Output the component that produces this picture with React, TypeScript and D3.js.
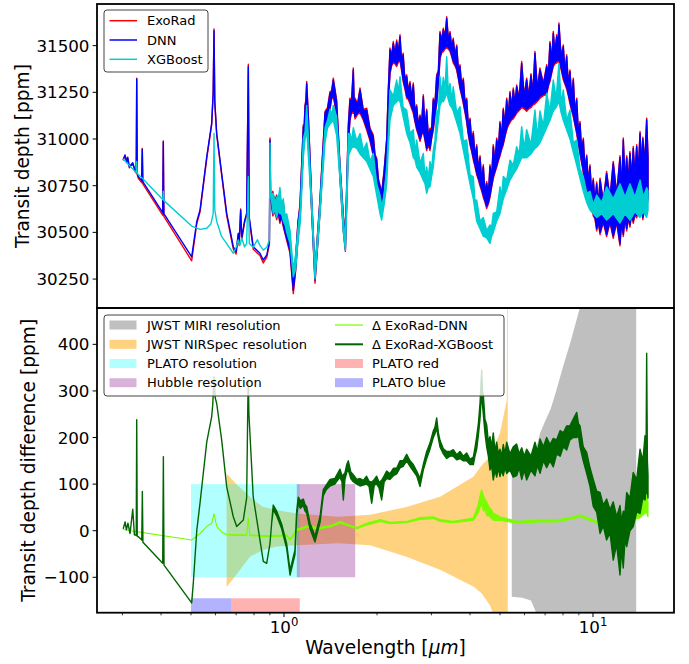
import React from 'react';
import * as d3 from 'd3';

// ---------- data ----------
const X_DOMAIN = [0.2482, 18.29];
const TOP_Y_DOMAIN = [30095, 31723];
const BOT_Y_DOMAIN = [-176, 478];
const TOP_Y_TICKS = [30250, 30500, 30750, 31000, 31250, 31500];
const BOT_Y_TICKS = [-100, 0, 100, 200, 300, 400];
const X_MAJOR_TICKS = [1, 10];
const X_MAJOR_EXP = ['0', '1'];
const X_MINOR_TICKS = [0.3, 0.4, 0.5, 0.6, 0.7, 0.8, 0.9, 2, 3, 4, 5, 6, 7, 8, 9];

// [wavelength µm, low ppm, high ppm]
const exoRad = [
  [0.302,30888,30888],[0.3058,30912,30912],[0.3097,30874,30874],[0.312,30898,30898],[0.3158,30846,30846],[0.324,30868,30868],[0.3299,30824,30824],[0.3325,30818,30818],[0.3337,31325,31325],[0.335,30808,30808],[0.3378,30790,30790],[0.3462,30766,30766],[0.3478,30950,30950],[0.3492,30760,30760],[0.405,30592,30592],[0.4068,30990,30990],[0.4085,30586,30586],[0.5026,30348,30348],[0.5218,30545,30545],[0.5349,30610,30610],[0.5623,30895,30895],[0.5834,31078,31078],[0.59,31245,31245],[0.5936,31590,31590],[0.597,31195,31195],[0.6056,31022,31022],[0.6285,30806,30806],[0.6525,30590,30590],[0.6854,30410,30410],[0.70,30384,30384],[0.7112,30488,30488],[0.716,30430,30430],[0.724,30625,30625],[0.73,30460,30460],[0.745,30550,30550],[0.757,30594,30594],[0.7665,31400,31400],[0.772,30570,30570],[0.795,30410,30410],[0.836,30376,30376],[0.857,30336,30336],[0.88,30368,30368],[0.897,30440,30440],[0.9011,31005,31005],[0.905,30690,30690],
  [0.92,30588,30720],[0.933,30612,30668],[0.947,30568,30700],[0.958,30602,30658],[0.97,30548,30690],[0.982,30582,30638],[0.995,30528,30660],[1.008,30492,30568],[1.02,30458,30530],[1.046,30388,30469],[1.0717,30172,30222],[1.09,30288,30360],[1.11,30468,30560],[1.1266,30568,30650],[1.1548,30938,31076],[1.162,31012,31068],[1.17,31088,31183],[1.177,31132,31208],[1.1843,31168,31308],[1.20,30988,31110],[1.2291,30608,30683],[1.26,30228,30290],[1.28,30388,30460],[1.3079,30608,30683],[1.3575,31048,31148],[1.383,31112,31168],[1.409,31158,31255],[1.426,31212,31258],[1.444,31228,31326],[1.48,31128,31210],[1.518,30788,30862],[1.556,30508,30594],[1.58,30398,30480],[1.615,30968,31076],[1.635,31098,31219],[1.655,31142,31208],[1.676,31138,31380],[1.687,31142,31198],[1.698,31108,31219],[1.73,31132,31188],[1.762,31138,31273],[1.806,31102,31158],[1.852,31048,31165],[1.898,30992,31058],[1.945,30908,31022],[1.97,30862,30918],[1.995,30788,30897],[2.02,30732,30788],[2.045,30668,30754],[2.07,30643,30710],[2.11,30772,30838],[2.15,30888,31005],[2.176,31192,31268],[2.203,31348,31487],[2.23,31392,31448],[2.258,31408,31522],[2.287,31402,31458],[2.316,31388,31530],[2.345,31412,31468],[2.374,31418,31558],[2.40,31372,31428],[2.43,31308,31460],[2.46,31272,31328],[2.495,31218,31344],[2.526,31212,31258],[2.558,31188,31308],[2.59,31162,31218],[2.621,31138,31300],[2.654,31092,31148],[2.688,31048,31183],[2.72,31022,31078],[2.756,30988,31129],[2.79,31022,31088],[2.824,31038,31237],[2.86,30992,31058],[2.896,30938,31160],[2.93,30972,31018],[2.968,30938,31058],[3.005,31002,31058],[3.042,31048,31219],[3.08,31122,31188],[3.12,31188,31344],[3.16,31292,31368],[3.198,31428,31576],[3.238,31462,31528],[3.278,31468,31594],[3.32,31482,31548],[3.362,31488,31655],[3.404,31482,31538],[3.446,31468,31576],[3.488,31442,31498],[3.53,31408,31540],[3.576,31392,31448],[3.622,31368,31504],[3.667,31322,31378],[3.712,31268,31398],[3.758,31232,31288],[3.805,31188,31326],[3.853,31142,31198],[3.902,31088,31219],[3.95,31022,31078],[4.0,30968,31112],[4.05,30932,30988],[4.099,30888,31040],[4.15,30852,30908],[4.204,30808,30969],[4.257,30782,30838],[4.31,30748,30910],[4.363,30722,30778],[4.416,30688,30862],[4.47,30662,30718],[4.529,30628,30772],[4.585,30652,30708],[4.642,30688,30862],[4.70,30742,30798],[4.757,30788,30969],[4.82,30822,30878],[4.879,30848,31005],[4.94,30882,30948],[5.0,30908,31094],[5.06,30942,31008],[5.125,30968,31165],[5.19,31012,31078],[5.257,31048,31219],[5.32,31072,31128],[5.387,31088,31255],[5.455,31102,31168],[5.522,31108,31273],[5.59,31122,31188],[5.663,31138,31290],[5.77,31152,31218],[5.878,31168,31415],[5.99,31162,31228],[6.1,31148,31326],[6.2,31162,31228],[6.3,31168,31350],[6.39,31182,31248],[6.489,31188,31469],[6.61,31202,31268],[6.736,31218,31380],[6.91,31232,31298],[7.083,31238,31398],[7.17,31282,31348],[7.258,31308,31522],[7.35,31352,31418],[7.439,31388,31576],[7.53,31402,31468],[7.63,31408,31558],[7.69,31412,31478],[7.76,31418,31621],[7.89,31372,31438],[8.015,31318,31504],[8.12,31292,31358],[8.22,31268,31451],[8.32,31232,31298],[8.425,31188,31370],[8.53,31152,31218],[8.636,31118,31326],[8.75,31072,31138],[8.857,31028,31219],[8.97,30972,31038],[9.078,30918,31094],[9.19,30872,30938],[9.305,30818,31005],[9.42,30772,30838],[9.543,30728,30915],[9.66,30702,30768],[9.779,30668,30862],[9.9,30632,30708],[10.02,30588,30790],[10.15,30572,30668],[10.28,30508,30770],[10.41,30552,30648],[10.54,30488,30790],[10.8,30552,30668],[11.07,30478,30826],[11.35,30552,30688],[11.63,30468,30880],[11.93,30552,30708],[12.23,30428,30910],[12.38,30552,30728],[12.535,30478,31005],[12.7,30572,30768],[12.856,30508,30910],[13.01,30572,30768],[13.17,30528,30933],[13.33,30592,30788],[13.5,30548,30960],[13.67,30592,30808],[13.85,30578,30969],[14.02,30612,30828],[14.2,30588,31040],[14.35,30632,30848],[14.5,30568,31010],[14.7,30632,30868],[14.92,30608,31112],[15.07,30690,30910],
];

const dnn = [
  [0.302,30891,30891],[0.3058,30914,30914],[0.3097,30878,30878],[0.312,30902,30902],[0.3158,30852,30852],[0.324,30873,30873],[0.3299,30830,30830],[0.3325,30825,30825],[0.3337,31321,31321],[0.335,30815,30815],[0.3378,30798,30798],[0.3462,30777,30777],[0.3478,30945,30945],[0.3492,30772,30772],[0.405,30606,30606],[0.4068,30985,30985],[0.4085,30600,30600],[0.5026,30369,30369],[0.5218,30557,30557],[0.5349,30620,30620],[0.5623,30905,30905],[0.5834,31084,31084],[0.59,31250,31250],[0.5936,31580,31580],[0.597,31200,31200],[0.6056,31030,31030],[0.6285,30816,30816],[0.6525,30602,30602],[0.6854,30423,30423],[0.70,30396,30396],[0.7112,30495,30495],[0.716,30440,30440],[0.724,30620,30620],[0.73,30470,30470],[0.745,30560,30560],[0.757,30602,30602],[0.7665,31387,31387],[0.772,30580,30580],[0.795,30423,30423],[0.836,30388,30388],[0.857,30352,30352],[0.88,30380,30380],[0.897,30450,30450],[0.9011,30995,30995],[0.905,30700,30700],
  [0.92,30600,30710],[0.933,30620,30660],[0.947,30580,30690],[0.958,30610,30650],[0.97,30560,30680],[0.982,30590,30630],[0.995,30540,30650],[1.008,30500,30560],[1.02,30470,30520],[1.046,30400,30459],[1.0717,30191,30210],[1.09,30300,30350],[1.11,30480,30550],[1.1266,30580,30640],[1.1548,30950,31066],[1.162,31020,31060],[1.17,31100,31173],[1.177,31140,31200],[1.1843,31180,31298],[1.20,31000,31100],[1.2291,30620,30673],[1.26,30245,30280],[1.28,30400,30450],[1.3079,30620,30673],[1.3575,31060,31138],[1.383,31120,31160],[1.409,31170,31245],[1.426,31220,31250],[1.444,31240,31316],[1.48,31140,31200],[1.518,30800,30852],[1.556,30520,30584],[1.58,30410,30470],[1.615,30980,31066],[1.635,31110,31209],[1.655,31150,31200],[1.676,31150,31370],[1.687,31150,31190],[1.698,31120,31209],[1.73,31140,31180],[1.762,31150,31263],[1.806,31110,31150],[1.852,31060,31155],[1.898,31000,31050],[1.945,30920,31012],[1.97,30870,30910],[1.995,30800,30887],[2.02,30740,30780],[2.045,30680,30744],[2.07,30655,30700],[2.11,30780,30830],[2.15,30900,30995],[2.176,31200,31260],[2.203,31360,31477],[2.23,31400,31440],[2.258,31420,31512],[2.287,31410,31450],[2.316,31400,31520],[2.345,31420,31460],[2.374,31430,31548],[2.40,31380,31420],[2.43,31320,31450],[2.46,31280,31320],[2.495,31230,31334],[2.526,31220,31250],[2.558,31200,31298],[2.59,31170,31210],[2.621,31150,31290],[2.654,31100,31140],[2.688,31060,31173],[2.72,31030,31070],[2.756,31000,31119],[2.79,31030,31080],[2.824,31050,31227],[2.86,31000,31050],[2.896,30950,31150],[2.93,30980,31010],[2.968,30950,31048],[3.005,31010,31050],[3.042,31060,31209],[3.08,31130,31180],[3.12,31200,31334],[3.16,31300,31360],[3.198,31440,31566],[3.238,31470,31520],[3.278,31480,31584],[3.32,31490,31540],[3.362,31500,31645],[3.404,31490,31530],[3.446,31480,31566],[3.488,31450,31490],[3.53,31420,31530],[3.576,31400,31440],[3.622,31380,31494],[3.667,31330,31370],[3.712,31280,31388],[3.758,31240,31280],[3.805,31200,31316],[3.853,31150,31190],[3.902,31100,31209],[3.95,31030,31070],[4.0,30980,31102],[4.05,30940,30980],[4.099,30900,31030],[4.15,30860,30900],[4.204,30820,30959],[4.257,30790,30830],[4.31,30760,30900],[4.363,30730,30770],[4.416,30700,30852],[4.47,30670,30710],[4.529,30640,30762],[4.585,30660,30700],[4.642,30700,30852],[4.70,30750,30790],[4.757,30800,30959],[4.82,30830,30870],[4.879,30860,30995],[4.94,30890,30940],[5.0,30920,31084],[5.06,30950,31000],[5.125,30980,31155],[5.19,31020,31070],[5.257,31060,31209],[5.32,31080,31120],[5.387,31100,31245],[5.455,31110,31160],[5.522,31120,31263],[5.59,31130,31180],[5.663,31150,31280],[5.77,31160,31210],[5.878,31180,31405],[5.99,31170,31220],[6.1,31160,31316],[6.2,31170,31220],[6.3,31180,31340],[6.39,31190,31240],[6.489,31200,31459],[6.61,31210,31260],[6.736,31230,31370],[6.91,31240,31290],[7.083,31250,31388],[7.17,31290,31340],[7.258,31320,31512],[7.35,31360,31410],[7.439,31400,31566],[7.53,31410,31460],[7.63,31420,31548],[7.69,31420,31470],[7.76,31430,31611],[7.89,31380,31430],[8.015,31330,31494],[8.12,31300,31350],[8.22,31280,31441],[8.32,31240,31290],[8.425,31200,31360],[8.53,31160,31210],[8.636,31130,31316],[8.75,31080,31130],[8.857,31040,31209],[8.97,30980,31030],[9.078,30930,31084],[9.19,30880,30930],[9.305,30830,30995],[9.42,30780,30830],[9.543,30740,30905],[9.66,30710,30760],[9.779,30680,30852],[9.9,30640,30700],[10.02,30600,30780],[10.15,30580,30660],[10.28,30520,30760],[10.41,30560,30640],[10.54,30500,30780],[10.8,30560,30660],[11.07,30490,30816],[11.35,30560,30680],[11.63,30480,30870],[11.93,30560,30700],[12.23,30440,30900],[12.38,30560,30720],[12.535,30490,30995],[12.7,30580,30760],[12.856,30520,30900],[13.01,30580,30760],[13.17,30540,30923],[13.33,30600,30780],[13.5,30560,30950],[13.67,30600,30800],[13.85,30590,30959],[14.02,30620,30820],[14.2,30600,31030],[14.35,30640,30840],[14.5,30580,31000],[14.7,30640,30860],[14.92,30620,31102],[15.07,30700,30900],
];

const xgboost = [
  [0.302,30891,30891],[0.3325,30820,30820],[0.3337,30880,30880],[0.335,30815,30815],[0.348,30790,30790],[0.405,30676,30676],[0.4068,30720,30720],[0.4085,30670,30670],[0.5026,30534,30534],[0.5349,30516,30516],[0.5623,30522,30522],[0.58,30545,30545],[0.59,30600,30600],[0.5936,31030,31030],[0.597,30620,30620],[0.6056,30560,30560],[0.6285,30477,30477],[0.6525,30440,30440],[0.6854,30388,30388],[0.70,30420,30420],[0.7112,30459,30459],[0.72,30430,30430],[0.73,30470,30470],[0.745,30423,30423],[0.757,30440,30440],[0.7665,30798,30798],[0.772,30440,30440],[0.795,30420,30420],[0.82,30460,30460],[0.836,30430,30430],[0.857,30405,30405],[0.88,30420,30420],[0.897,30460,30460],[0.9011,30977,30977],[0.905,30709,30709],
  [0.923,30600,30709],[0.935,30620,30660],[0.947,30580,30690],[0.958,30620,30680],[0.97,30600,30740],[0.982,30600,30650],[0.995,30560,30680],[1.008,30540,30580],[1.02,30500,30600],[1.046,30440,30512],[1.0717,30262,30300],[1.09,30300,30380],[1.11,30450,30520],[1.13,30560,30640],[1.1548,30900,31000],[1.17,31000,31040],[1.1843,31050,31180],[1.2291,30620,30680],[1.26,30250,30300],[1.3079,30600,30660],[1.3575,30980,31060],[1.383,31060,31100],[1.409,31080,31160],[1.426,31090,31130],[1.444,31100,31180],[1.48,31020,31120],[1.518,30780,30850],[1.556,30500,30570],[1.58,30405,30460],[1.615,30900,31030],[1.625,30920,30960],[1.635,30930,31030],[1.655,30950,30990],[1.676,30960,31060],[1.72,30950,30990],[1.762,30920,31030],[1.806,30900,30940],[1.852,30880,30980],[1.898,30840,30880],[1.945,30800,30923],[1.995,30700,30760],[2.045,30600,30700],[2.07,30566,30640],[2.11,30650,30700],[2.15,30760,30852],[2.176,30950,31020],[2.203,31100,31263],[2.258,31180,31230],[2.316,31200,31316],[2.345,31210,31250],[2.374,31200,31334],[2.43,31120,31170],[2.495,31030,31155],[2.558,30980,31030],[2.621,30900,31050],[2.654,30890,30930],[2.688,30850,30995],[2.756,30820,30870],[2.824,30780,30923],[2.86,30760,30800],[2.896,30709,30850],[2.93,30740,30790],[2.968,30744,30880],[3.005,30800,30840],[3.042,30850,30941],[3.08,30940,30990],[3.12,31020,31155],[3.16,31100,31150],[3.198,31180,31334],[3.238,31200,31240],[3.278,31200,31330],[3.32,31220,31270],[3.362,31250,31441],[3.404,31210,31250],[3.446,31180,31298],[3.488,31170,31210],[3.53,31150,31280],[3.622,31090,31140],[3.712,31030,31173],[3.805,30940,30990],[3.902,30850,30995],[4.0,30760,30810],[4.099,30680,30798],[4.15,30620,30670],[4.204,30560,30673],[4.31,30520,30560],[4.416,30480,30580],[4.529,30470,30510],[4.642,30441,30540],[4.70,30480,30530],[4.757,30500,30602],[4.879,30560,30610],[5.0,30600,30744],[5.06,30640,30690],[5.125,30680,30800],[5.257,30730,30780],[5.387,30780,30887],[5.522,30810,30860],[5.663,30840,30959],[5.77,30870,30920],[5.878,30900,31066],[5.99,30900,30950],[6.1,30900,31050],[6.3,30920,30970],[6.489,30950,31155],[6.61,30960,31010],[6.736,30980,31150],[6.91,31020,31070],[7.083,31060,31245],[7.258,31100,31150],[7.439,31150,31316],[7.6,31170,31220],[7.76,31200,31405],[7.89,31140,31190],[8.015,31100,31263],[8.22,31050,31100],[8.425,31000,31155],[8.636,30930,30980],[8.857,30860,30995],[9.078,30790,30840],[9.305,30720,30798],[9.543,30660,30710],[9.779,30620,30720],[10.02,30600,30650],[10.28,30580,30700],[10.67,30600,30660],[11.07,30566,30744],[11.63,30600,30680],[12.23,30550,30760],[12.7,30600,30690],[13.17,30566,30760],[13.67,30610,30690],[14.2,30580,30780],[14.55,30610,30690],[14.92,30580,30740],[15.07,30620,30720],
];

const deltaDnn = [
  [0.302,3,3],[0.325,-1,-1],[0.5026,-20,-20],[0.5349,-6,-6],[0.5623,9,9],[0.5834,16,16],[0.5936,36,36],[0.6056,10,10],[0.6285,-3,-3],[0.6525,-9,-8],[0.7112,-10,-9],[0.757,-10,-9],[0.7665,27,27],[0.776,-10,-9],[0.879,-13,-11],[1.02,-11,-9],[1.046,-20,-18],[1.07,-12,-9],[1.10,0,3],[1.184,7,10],[1.30,4,7],[1.41,8,11],[1.52,16,20],[1.60,11,14],[1.72,4,7],[1.85,12,16],[2.05,20,24],[2.2,15,18],[2.5,17,20],[2.75,24,28],[3.04,26,30],[3.2,20,24],[3.53,17,20],[4.10,22,27],[4.25,38,55],[4.3,48,72],[4.36,58,88],[4.42,42,75],[4.47,46,68],[4.53,32,62],[4.6,32,52],[4.68,27,46],[4.76,22,38],[5.0,22,30],[5.26,20,26],[5.66,16,20],[6.74,19,23],[7.63,19,23],[8.64,26,30],[9.08,30,34],[9.78,22,26],[10.5,14,18],[12.5,16,22],[14.2,28,38],[14.9,40,100],[15.07,30,60],
];

const deltaXgb = [
  [0.302,5,5],[0.306,19,19],[0.309,2,2],[0.3125,16,16],[0.3175,-6,-6],[0.324,46,46],[0.328,-9,-9],[0.3325,-10,-10],[0.3337,238,238],[0.335,-12,-12],[0.338,-13,-13],[0.3465,-20,-20],[0.348,84,84],[0.3495,-25,-25],[0.405,-70,-70],[0.407,159,159],[0.409,-74,-74],[0.5026,-155,-155],[0.509,-110,-110],[0.522,0,0],[0.535,60,60],[0.5623,190,190],[0.5834,245,245],[0.588,270,270],[0.5936,330,330],[0.599,285,285],[0.6056,273,273],[0.6285,195,195],[0.6525,94,94],[0.6854,30,30],[0.703,9,9],[0.7384,23,23],[0.757,70,70],[0.764,280,280],[0.7665,323,323],[0.77,250,250],[0.795,73,73],[0.857,-66,-66],[0.879,-70,-70],[0.901,-27,-27],[0.912,16,16],[0.923,45,55],[0.947,32,42],[0.983,4,14],[1.02,-38,-28],[1.046,-95,-85],[1.085,-52,-42],[1.099,32,42],
  [1.1125,58,72],[1.13,48,64],[1.155,54,68],[1.17,42,56],[1.184,38,52],[1.214,4,16],[1.26,-24,-12],[1.308,18,30],[1.34,75,88],[1.37,88,98],[1.409,96,110],[1.46,100,112],[1.518,115,132],[1.54,105,118],[1.556,66,120],[1.575,110,124],[1.596,125,142],[1.615,130,150],[1.645,112,126],[1.676,105,120],[1.72,100,110],[1.762,96,112],[1.806,98,108],[1.85,100,117],[1.885,95,106],[1.922,59,104],[1.96,98,110],[1.995,100,117],[2.03,92,104],[2.07,66,108],[2.11,105,118],[2.15,112,128],[2.2,110,122],[2.26,118,134],[2.316,122,134],[2.374,135,150],[2.43,138,150],[2.495,150,164],[2.558,138,150],[2.621,128,142],[2.688,118,128],[2.756,95,112],[2.824,130,142],[2.896,155,170],[2.968,175,188],[3.042,200,214],[3.08,208,222],[3.12,220,242],[3.16,198,210],[3.198,180,194],[3.278,165,176],[3.362,155,170],[3.446,160,170],[3.53,160,174],[3.622,152,163],[3.712,155,170],[3.805,150,160],[3.90,150,167],[4.0,142,153],[4.10,142,158],[4.15,160,178],[4.204,175,202],[4.257,205,230],[4.3085,240,272],[4.363,300,345],[4.39,270,300],[4.416,250,292],[4.47,210,240],[4.529,180,227],[4.585,160,190],[4.642,130,202],[4.70,140,180],[4.757,109,210],[4.82,130,170],[4.879,115,190],[4.94,135,165],[5.0,116,175],[5.06,130,160],[5.125,118,185],[5.19,135,165],[5.257,123,190],[5.387,130,165],[5.522,115,180],[5.66,118,186],[5.77,135,165],[5.88,110,178],[5.99,130,160],[6.10,109,175],[6.3,130,160],[6.49,118,190],[6.61,140,170],[6.74,123,197],[6.91,150,180],[7.08,135,200],[7.26,150,185],[7.44,137,198],[7.63,165,195],[7.83,160,215],[8.02,180,210],[8.22,173,225],[8.42,195,225],[8.64,200,240],[8.86,200,254],[8.97,205,230],[9.08,180,225],[9.3,150,180],[9.54,123,168],[9.78,95,135],[10.02,52,110],[10.28,40,85],[10.54,-6,82],[10.8,10,55],[11.07,-20,68],[11.35,-5,45],[11.63,-63,62],[11.93,-30,30],[12.23,-95,54],[12.38,-40,20],[12.53,-80,42],[12.7,-20,40],[12.86,-34,82],[13.17,0,70],[13.5,9,125],[13.85,40,110],[14.2,37,175],[14.5,70,150],[14.74,66,204],[14.85,90,160],[14.92,80,381],[15.0,90,150],[15.07,70,120],
];

// instrument bands [wavelength, low, high]
const nirspecBand = [
  [0.652,-121,123],[0.70,-95,100],[0.776,-56,73],[0.85,-42,52],[0.947,-34,44],[1.10,-31,37],[1.5,-27,30],[1.9,-31,34],[2.49,-56,51],[3.2,-84,73],[4.1,-120,116],[4.36,-134,140],[4.64,-160,159],[5.0,-215,209],[5.26,-290,280],[5.28,-600,600],[5.30,-1000,1000],
];
const miriBand = [
  [5.46,-142,142],[5.9,-144,144],[6.3,-150,150],[6.55,-176,176],[6.74,-209,209],[7.0,-235,235],[7.3,-262,262],[7.6,-300,300],[8.0,-352,352],[8.5,-410,410],[9.08,-480,480],[10,-600,600],[13.8,-600,600],
];
// [wl start, wl end, low, high]
const platoRes = [0.5, 1.125, -100, 100];
const hubbleRes = [1.1, 1.7, -100, 100];
const platoBlue = [0.5, 0.675, -200, -145];
const platoRed = [0.675, 1.125, -200, -145];

const topLegend = [
  { label: 'ExoRad', color: '#ff0000' },
  { label: 'DNN', color: '#0000ff' },
  { label: 'XGBoost', color: '#00ced1' },
];

// ---------- layout ----------
const W = 689, H = 664;
const L = 97, R = 674, T1 = 4, B1 = 308, T2 = 308, B2 = 612.7;
const FONT = 'DejaVu Sans';

export default function App() {
  const x = d3.scaleLog().domain(X_DOMAIN).range([L, R]);
  const yT = d3.scaleLinear().domain(TOP_Y_DOMAIN).range([B1, T1]);
  const yB = d3.scaleLinear().domain(BOT_Y_DOMAIN).range([B2, T2]);
  const bandT = d3.area<number[]>().x(d => x(d[0])).y0(d => yT(d[1])).y1(d => yT(d[2]));
  const bandB = d3.area<number[]>().x(d => x(d[0])).y0(d => yB(d[1])).y1(d => yB(d[2]));

  const rectB = (r: number[], fill: string, op: number) => (
    <rect x={x(r[0])} width={x(r[1]) - x(r[0])} y={yB(r[3])} height={yB(r[2]) - yB(r[3])} fill={fill} fillOpacity={op} />
  );
  const series = (d: number[][], gen: any, color: string, sw: number) => (
    <path d={gen(d) || ''} fill={color} stroke={color} strokeWidth={sw} strokeLinejoin="round" />
  );

  const tickFont = 16.7;
  const legFont = 13;

  const botLeg1 = [
    { label: 'JWST MIRI resolution', color: 'gray', op: 0.5 },
    { label: 'JWST NIRSpec resolution', color: '#ffa500', op: 0.5 },
    { label: 'PLATO resolution', color: '#00ffff', op: 0.3 },
    { label: 'Hubble resolution', color: '#800080', op: 0.3 },
  ];
  const botLeg2 = [
    { label: 'Δ ExoRad-DNN', color: '#7cfc00', line: 1.2 },
    { label: 'Δ ExoRad-XGBoost', color: '#006400', line: 2 },
    { label: 'PLATO red', color: '#ff0000', op: 0.3 },
    { label: 'PLATO blue', color: '#0000ff', op: 0.3 },
  ];
  const rowsTop = [20.7, 40, 59.3];
  const rowsBot = [325, 344.3, 363.5, 382.7];

  return (
    <svg width={W} height={H} style={{ position: 'absolute', left: 0, top: 0, background: '#fff' }} fontFamily={FONT}>
      <defs>
        <clipPath id="clipTop"><rect x={L} y={T1} width={R - L} height={B1 - T1} /></clipPath>
        <clipPath id="clipBot"><rect x={L} y={T2} width={R - L} height={B2 - T2} /></clipPath>
      </defs>
      <rect x={0} y={0} width={W} height={H} fill="#fff" />

      {/* top panel */}
      <g clipPath="url(#clipTop)">
        {series(exoRad, bandT, '#ff0000', 1.4)}
        {series(dnn, bandT, '#0000ff', 1.4)}
        {series(xgboost, bandT, '#00ced1', 1.4)}
      </g>

      {/* bottom panel */}
      <g clipPath="url(#clipBot)">
        <path d={bandB(miriBand) || ''} fill="gray" fillOpacity={0.5} />
        <path d={bandB(nirspecBand) || ''} fill="#ffa500" fillOpacity={0.5} />
        {rectB(platoRes, '#00ffff', 0.3)}
        {rectB(hubbleRes, '#800080', 0.3)}
        {rectB(platoRed, '#ff0000', 0.3)}
        {rectB(platoBlue, '#0000ff', 0.3)}
        {series(deltaDnn, bandB, '#7cfc00', 1.1)}
        {series(deltaXgb, bandB, '#006400', 1.4)}
      </g>

      {/* y axes */}
      {TOP_Y_TICKS.map(t => (
        <g key={'ty' + t}>
          <line x1={L - 4.4} x2={L} y1={yT(t)} y2={yT(t)} stroke="#000" strokeWidth={1} />
          <text x={L - 7.5} y={yT(t)} dy="0.36em" textAnchor="end" fontSize={tickFont}>{t}</text>
        </g>
      ))}
      {BOT_Y_TICKS.map(t => (
        <g key={'by' + t}>
          <line x1={L - 4.4} x2={L} y1={yB(t)} y2={yB(t)} stroke="#000" strokeWidth={1} />
          <text x={L - 7.5} y={yB(t)} dy="0.36em" textAnchor="end" fontSize={tickFont}>{t < 0 ? '\u2212' + Math.abs(t) : t}</text>
        </g>
      ))}
      {/* x axis */}
      {X_MINOR_TICKS.map(t => (
        <line key={'xm' + t} x1={x(t)} x2={x(t)} y1={B2} y2={B2 + 2.6} stroke="#000" strokeWidth={0.8} />
      ))}
      {X_MAJOR_TICKS.map((t, i) => (
        <g key={'xM' + t}>
          <line x1={x(t)} x2={x(t)} y1={B2} y2={B2 + 4.4} stroke="#000" strokeWidth={1} />
          <text x={x(t)} y={633} textAnchor="middle" fontSize={tickFont}>10<tspan dy={-7} fontSize={11.7}>{X_MAJOR_EXP[i]}</tspan></text>
        </g>
      ))}

      {/* frames */}
      <rect x={L} y={T1} width={R - L} height={B1 - T1} fill="none" stroke="#000" strokeWidth={1.8} />
      <rect x={L} y={T2} width={R - L} height={B2 - T2} fill="none" stroke="#000" strokeWidth={1.8} />

      {/* axis labels */}
      <text transform={`translate(29,${(T1 + B1) / 2}) rotate(-90)`} textAnchor="middle" fontSize={18.6}>Transit depth [ppm]</text>
      <text transform={`translate(35,${(T2 + B2) / 2}) rotate(-90)`} textAnchor="middle" fontSize={18.6}>Transit depth difference [ppm]</text>
      <text x={(L + R) / 2} y={654} textAnchor="middle" fontSize={18.6}>Wavelength [<tspan fontStyle="italic">μm</tspan>]</text>

      {/* top legend */}
      <rect x={104} y={10} width={104} height={62} rx={3} fill="#fff" fillOpacity={0.8} stroke="#444" strokeWidth={1} />
      {topLegend.map((e, i) => (
        <g key={e.label}>
          <line x1={109.5} x2={137} y1={rowsTop[i]} y2={rowsTop[i]} stroke={e.color} strokeWidth={1.5} />
          <text x={147} y={rowsTop[i] + 4.6} fontSize={legFont}>{e.label}</text>
        </g>
      ))}

      {/* bottom legend */}
      <rect x={104} y={315} width={400} height={81} rx={3} fill="#fff" fillOpacity={0.8} stroke="#444" strokeWidth={1} />
      {botLeg1.map((e, i) => (
        <g key={e.label}>
          <rect x={109.5} y={rowsBot[i] - 4.5} width={27} height={9} fill={e.color} fillOpacity={e.op} />
          <text x={147} y={rowsBot[i] + 4.6} fontSize={legFont}>{e.label}</text>
        </g>
      ))}
      {botLeg2.map((e, i) => (
        <g key={e.label}>
          {e.line ? (
            <line x1={335} x2={363} y1={rowsBot[i]} y2={rowsBot[i]} stroke={e.color} strokeWidth={e.line} />
          ) : (
            <rect x={335} y={rowsBot[i] - 4.5} width={28} height={9} fill={e.color} fillOpacity={e.op} />
          )}
          <text x={372} y={rowsBot[i] + 4.6} fontSize={legFont}>{e.label}</text>
        </g>
      ))}
    </svg>
  );
}
